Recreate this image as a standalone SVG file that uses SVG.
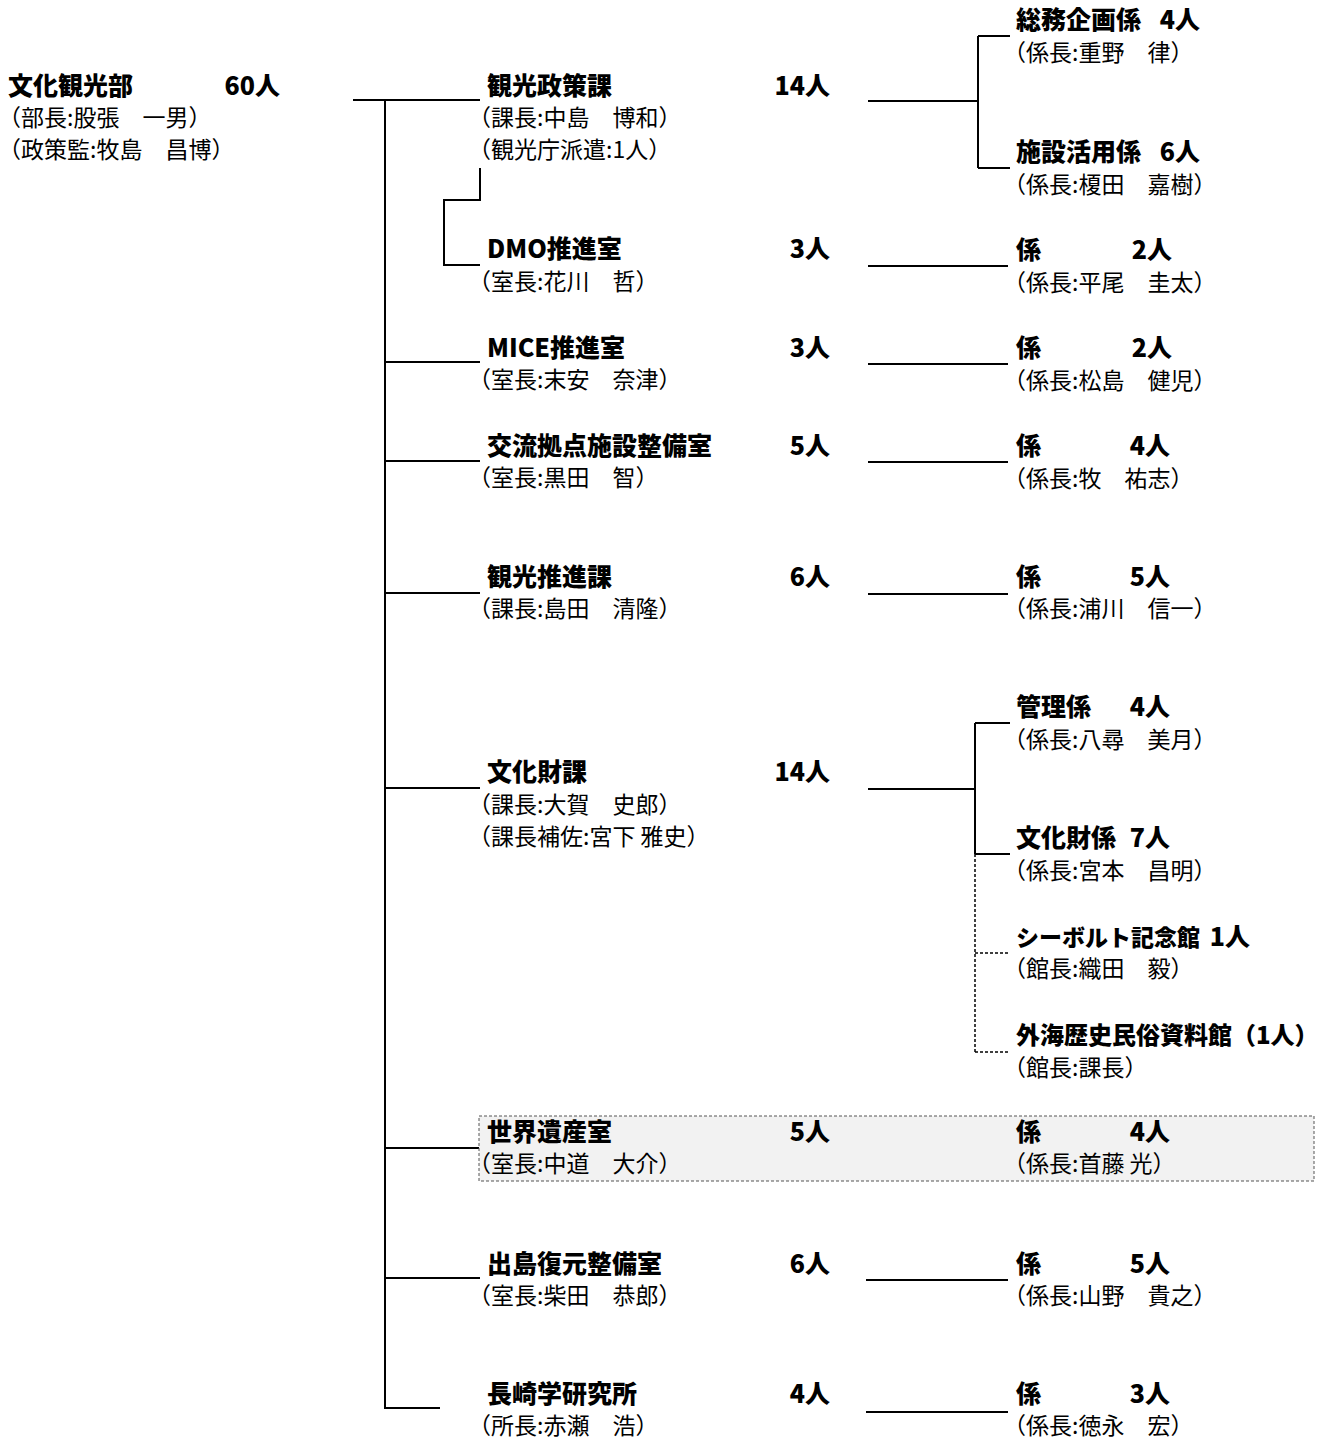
<svg xmlns="http://www.w3.org/2000/svg" width="1328" height="1442" viewBox="0 0 1328 1442">
<style>
.b{font-family:"Noto Sans CJK JP","Noto Sans CJK SC",sans-serif;font-weight:900;font-size:25px;fill:#000}
.r{font-family:"Noto Sans CJK JP","Noto Sans CJK SC",sans-serif;font-size:23px;fill:#000}
.n{text-anchor:end}
.ln{fill:none;stroke:#000;stroke-width:2}
.dl{fill:none;stroke:#000;stroke-width:1.5;stroke-dasharray:3 2}
</style>
<rect width="1328" height="1442" fill="#fff"/>
<g id="connectors">
<path class="ln" d="M353,100 H480 M385,100 V1408 H440 M385,362 H480 M385,461 H480 M385,593 H480 M385,788 H480 M385,1148 H480 M385,1278 H480"/>
<path class="ln" d="M480,168 V200 H444 V265 H480"/>
<path class="ln" d="M868,101 H978 M978,36 V168 M978,36 H1010 M978,168 H1010"/>
<path class="ln" d="M868,266 H1008 M868,364 H1008 M868,462 H1008 M868,594 H1008"/>
<path class="ln" d="M868,789 H975 M975,723 V854 M975,723 H1010 M975,854 H1010"/>
<path class="dl" d="M975,854 V1052 M975,953 H1010 M975,1052 H1010"/>
<path class="ln" d="M866,1148 H1008 M866,1280 H1008 M866,1412 H1008"/>
</g>
<g id="dept">
<text class="b" x="8" y="95">文化観光部</text><text class="b n" x="280" y="95">60人</text>
<text class="r" x="-2" y="126">（部長:股張　一男）</text>
<text class="r" x="-2" y="158">（政策監:牧島　昌博）</text>
</g>
<g id="kankoseisaku">
<text class="b" x="487" y="95">観光政策課</text><text class="b n" x="830" y="95">14人</text>
<text class="r" x="468" y="126">（課長:中島　博和）</text>
<text class="r" x="468" y="158">（観光庁派遣:1人）</text>
</g>
<g id="somukikaku">
<text class="b" x="1016" y="29">総務企画係</text><text class="b n" x="1200" y="29">4人</text>
<text class="r" x="1003" y="61">（係長:重野　律）</text>
</g>
<g id="shisetsukatsuyo">
<text class="b" x="1016" y="161">施設活用係</text><text class="b n" x="1200" y="161">6人</text>
<text class="r" x="1003" y="193">（係長:榎田　嘉樹）</text>
</g>
<g id="dmo">
<text class="b" x="487" y="258">DMO推進室</text><text class="b n" x="830" y="258">3人</text>
<text class="r" x="468" y="290">（室長:花川　哲）</text>
</g>
<g id="dmo-kakari">
<text class="b" x="1016" y="259">係</text><text class="b n" x="1172" y="259">2人</text>
<text class="r" x="1003" y="291">（係長:平尾　圭太）</text>
</g>
<g id="mice">
<text class="b" x="487" y="357">MICE推進室</text><text class="b n" x="830" y="357">3人</text>
<text class="r" x="468" y="388">（室長:末安　奈津）</text>
</g>
<g id="mice-kakari">
<text class="b" x="1016" y="357">係</text><text class="b n" x="1172" y="357">2人</text>
<text class="r" x="1003" y="389">（係長:松島　健児）</text>
</g>
<g id="koryu">
<text class="b" x="487" y="455">交流拠点施設整備室</text><text class="b n" x="830" y="455">5人</text>
<text class="r" x="468" y="486">（室長:黒田　智）</text>
</g>
<g id="koryu-kakari">
<text class="b" x="1016" y="455">係</text><text class="b n" x="1170" y="455">4人</text>
<text class="r" x="1003" y="487">（係長:牧　祐志）</text>
</g>
<g id="kankosuishin">
<text class="b" x="487" y="586">観光推進課</text><text class="b n" x="830" y="586">6人</text>
<text class="r" x="468" y="617">（課長:島田　清隆）</text>
</g>
<g id="kankosuishin-kakari">
<text class="b" x="1016" y="586">係</text><text class="b n" x="1170" y="586">5人</text>
<text class="r" x="1003" y="617">（係長:浦川　信一）</text>
</g>
<g id="bunkazai">
<text class="b" x="487" y="781">文化財課</text><text class="b n" x="830" y="781">14人</text>
<text class="r" x="468" y="813">（課長:大賀　史郎）</text>
<text class="r" x="468" y="845">（課長補佐:宮下 雅史）</text>
</g>
<g id="kanri">
<text class="b" x="1016" y="716">管理係</text><text class="b n" x="1170" y="716">4人</text>
<text class="r" x="1003" y="748">（係長:八尋　美月）</text>
</g>
<g id="bunkazai-kakari">
<text class="b" x="1016" y="847">文化財係</text><text class="b n" x="1170" y="847">7人</text>
<text class="r" x="1003" y="879">（係長:宮本　昌明）</text>
</g>
<g id="siebold">
<text class="b" x="1016" y="946" style="font-size:23px">シーボルト記念館</text><text class="b n" x="1250" y="946">1人</text>
<text class="r" x="1003" y="977">（館長:織田　毅）</text>
</g>
<g id="sotome">
<text class="b" x="1016" y="1044" style="font-size:24px">外海歴史民俗資料館（1人）</text>
<text class="r" x="1003" y="1076">（館長:課長）</text>
</g>
<g id="sekaiisan">
<rect x="479" y="1116" width="835" height="65" fill="#f2f2f2" stroke="#555" stroke-width="1" stroke-dasharray="3 2"/>
<text class="b" x="487" y="1141">世界遺産室</text><text class="b n" x="830" y="1141">5人</text>
<text class="r" x="468" y="1172">（室長:中道　大介）</text>
<text class="b" x="1016" y="1141">係</text><text class="b n" x="1170" y="1141">4人</text>
<text class="r" x="1003" y="1172">（係長:首藤 光）</text>
</g>
<g id="dejima">
<text class="b" x="487" y="1273">出島復元整備室</text><text class="b n" x="830" y="1273">6人</text>
<text class="r" x="468" y="1304">（室長:柴田　恭郎）</text>
</g>
<g id="dejima-kakari">
<text class="b" x="1016" y="1273">係</text><text class="b n" x="1170" y="1273">5人</text>
<text class="r" x="1003" y="1304">（係長:山野　貴之）</text>
</g>
<g id="nagasakigaku">
<text class="b" x="487" y="1403">長崎学研究所</text><text class="b n" x="830" y="1403">4人</text>
<text class="r" x="468" y="1434">（所長:赤瀬　浩）</text>
</g>
<g id="nagasakigaku-kakari">
<text class="b" x="1016" y="1403">係</text><text class="b n" x="1170" y="1403">3人</text>
<text class="r" x="1003" y="1434">（係長:徳永　宏）</text>
</g>
</svg>
